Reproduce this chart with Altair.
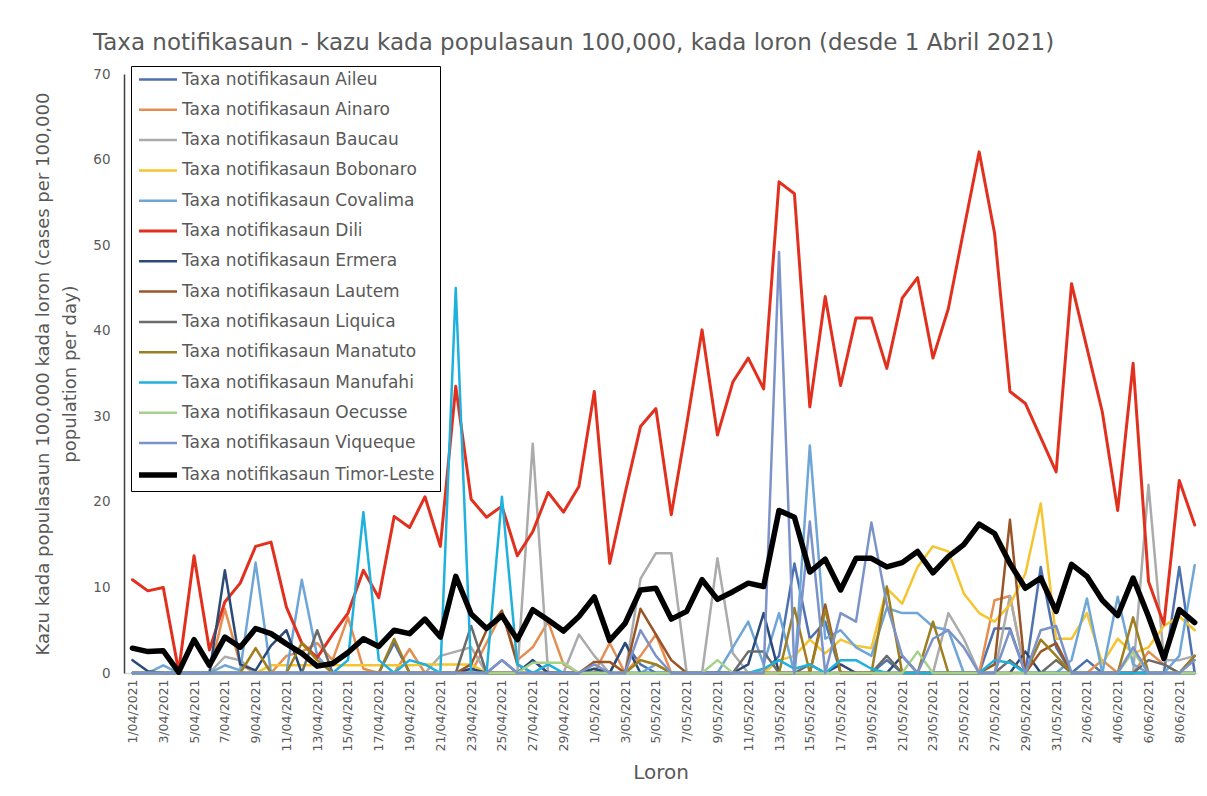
import json
import altair as alt
import pandas as pd

dates = [d.strftime("%-d/%m/%Y") for d in pd.date_range("2021-04-01", periods=70)]

names = ["Aileu", "Ainaro", "Baucau", "Bobonaro", "Covalima", "Dili", "Ermera",
         "Lautem", "Liquica", "Manatuto", "Manufahi", "Oecusse", "Viqueque", "Timor-Leste"]
colors = ["#4E72B0", "#E58E51", "#ABABAB", "#F5C431", "#6EA6D8", "#E2301F", "#2B4A78",
          "#9A5526", "#6B6B6B", "#9E7E1E", "#1FB1DE", "#A7D08A", "#7C93C9", "#000000"]
widths = [2.5] * 5 + [3.0] + [2.5] * 7 + [5.5]

aileu = [0, 0, 0, 0, 0, 0, 0, 0, 0, 0,
         0, 0, 0, 0, 0, 0, 0, 3.5, 0, 0,
         0, 0, 0, 0, 1.5, 0, 0, 0, 0, 0,
         0, 0, 3.5, 1.0, 0, 0, 0, 0, 0, 0,
         0, 0, 2.0, 12.8, 4.0, 6.0, 0, 0, 0, 1.5,
         0, 0, 0, 0, 0, 0, 5.2, 5.2, 0, 12.4,
         3.0, 0, 1.5, 0, 0, 0, 0, 0, 12.4, 0]
ainaro = [0, 0, 0, 0, 0, 0, 7.5, 1.0, 0, 0,
          2.0, 2.5, 3.5, 1.5, 6.5, 0.5, 0, 0, 2.8, 0,
          0, 0, 0, 3.5, 7.0, 1.5, 3.0, 6.0, 1.0, 0,
          0, 3.5, 0, 2.0, 4.5, 0, 0, 0, 0, 0,
          0, 0, 0, 0, 0, 0, 0, 0, 0, 0,
          0, 0, 0, 0, 0, 0, 8.5, 9.0, 0, 0,
          0, 0, 0, 1.5, 0, 0, 2.5, 1.0, 0, 0]
baucau = [0, 0, 0, 0, 0, 0, 1.9, 1.5, 0, 0,
          0, 0, 0, 0, 0, 0, 0, 0, 0, 0,
          2.0, 2.5, 3.0, 0, 0, 0, 26.8, 0, 0, 4.5,
          2.0, 0, 0, 11.0, 14.0, 14.0, 0, 0, 13.4, 2.3,
          0, 0, 0, 0, 0, 0, 0, 0, 0, 0,
          0, 0, 0, 7.0, 4.0, 0, 0, 9.0, 0, 0,
          0, 0, 0, 0, 0, 0, 22.0, 1.5, 1.5, 2.0]
bobonaro = [0, 0, 0, 0, 0, 0, 0, 0, 0, 0.9,
            0.9, 0.9, 0.9, 0.9, 0.9, 0.9, 0.9, 0.9, 0.9, 1.0,
            1.0, 1.0, 1.0, 0, 0, 0, 0, 0, 0, 0,
            0, 0, 0, 1.5, 1.0, 0, 0, 0, 0, 0,
            0, 0, 1.5, 2.0, 3.9, 2.3, 3.9, 3.2, 2.9, 9.9,
            8.1, 12.4, 14.8, 14.2, 9.3, 7.0, 6.0, 8.0, 11.6, 19.8,
            4.0, 4.0, 7.0, 1.1, 4.0, 2.3, 3.0, 5.5, 6.6, 5.0]
covalima = [0, 0, 0.9, 0, 0, 0, 0.9, 0.3, 12.9, 0,
            0, 10.9, 2.0, 0, 0, 0, 0, 0, 0, 0,
            0, 0, 0, 0, 0, 0, 1.5, 0, 0, 0,
            0, 0, 0, 0, 1.0, 0, 0, 0, 0, 3.0,
            6.0, 1.0, 7.0, 0, 26.6, 4.0, 5.0, 3.0, 2.0, 7.6,
            7.0, 7.0, 5.4, 5.0, 0, 0, 0, 0, 0, 0,
            0, 1.5, 8.7, 0, 8.9, 1.0, 0, 0, 2.0, 12.6]
dili = [10.9, 9.6, 10.0, 0.2, 13.7, 2.7, 8.3, 10.5, 14.8, 15.3,
        7.7, 3.5, 1.8, 4.5, 7.0, 12.0, 8.8, 18.3, 17.0, 20.6,
        14.8, 33.5, 20.3, 18.2, 19.5, 13.7, 16.5, 21.1, 18.8, 21.8,
        32.9, 12.8, 21.0, 28.8, 30.9, 18.5, 29.0, 40.1, 27.8, 34.0,
        36.8, 33.2, 57.4, 56.0, 31.1, 44.0, 33.6, 41.5, 41.5, 35.6,
        43.8, 46.2, 36.8, 42.6, 51.8, 60.9, 51.4, 32.9, 31.5, 27.5,
        23.5, 45.5, 38.0, 30.5, 19.0, 36.2, 10.7, 5.7, 22.5, 17.3]
ermera = [1.5, 0.2, 0, 0, 0, 0, 12.0, 1.0, 0.3, 3.2,
          5.0, 0, 0, 0, 0, 0, 0, 0, 0, 0,
          0, 0, 0.5, 0, 0, 0, 1.5, 0, 0, 0,
          0.5, 0, 3.5, 0, 0, 0, 0, 0, 0, 0,
          1.0, 7.0, 0, 0, 0, 0, 1.0, 0, 0, 0,
          2.0, 0, 0, 0, 0, 0, 0, 0, 2.5, 0,
          0, 0, 0, 0, 0, 0, 0, 0, 0, 0]
lautem = [0, 0, 0, 0, 0, 0, 0, 0, 0, 0,
          0, 0, 0, 0, 0, 0, 0, 0, 0, 0,
          0, 0, 1.0, 5.0, 7.3, 1.0, 0, 0, 0, 0,
          1.3, 1.3, 0, 7.5, 4.5, 1.5, 0, 0, 0, 0,
          0, 0, 0, 0, 0, 8.0, 0, 0, 0, 0,
          0, 0, 0, 0, 0, 0, 1.0, 17.9, 0, 2.5,
          3.5, 0, 0, 0, 0, 0, 0, 0, 0, 0]
liquica = [0, 0, 0, 0, 0, 0, 0, 0, 0, 0,
           0, 0, 5.0, 0, 0, 0, 0, 0, 0, 0,
           0, 0, 5.5, 0, 0, 0, 0, 0, 0, 0,
           0, 0, 0, 0, 0, 0, 0, 0, 0, 0,
           2.5, 2.5, 0, 0, 1.0, 0, 0, 0, 0, 2.0,
           0, 0, 0, 0, 0, 0, 0, 1.5, 0, 0,
           1.5, 0, 0, 0, 0, 0, 1.5, 1.0, 0, 2.0]
manatuto = [0, 0, 0, 0, 0, 0, 0, 0, 2.9, 0,
            0, 3.5, 1.5, 0, 0, 0, 0, 4.0, 0, 0,
            0, 0, 0, 0, 0, 0, 0, 0, 0, 0,
            0, 0, 0, 1.5, 1.0, 0, 0, 0, 0, 0,
            0, 0, 0, 7.6, 0, 7.4, 0, 0, 0, 10.1,
            0, 0, 6.0, 0, 0, 0, 0, 0, 0, 3.9,
            2.0, 0, 0, 0, 0, 6.5, 0, 0, 0, 2.0]
manufahi = [0, 0, 0, 0, 0, 0, 0, 0, 0, 0,
            0, 0, 0, 0, 1.5, 18.8, 1.5, 0, 1.5, 1.0,
            0, 45.0, 0, 0, 20.6, 1.0, 0, 1.0, 0, 0,
            0, 0, 0, 0, 0, 0, 0, 0, 0, 0,
            0, 0.5, 1.5, 0.5, 1.0, 0, 1.5, 1.5, 0.5, 0,
            0, 0, 0, 0, 0, 0, 1.5, 1.2, 0, 0,
            0, 0, 0, 0, 0, 0, 0, 0, 0, 0]
oecusse = [0, 0, 0, 0, 0, 0, 0, 0, 0, 0,
           0, 0, 0, 0, 0, 0, 0, 0, 0, 0,
           0, 0, 0, 0, 0, 0, 1.2, 1.2, 1.2, 0,
           0, 0, 0, 0, 0, 0, 0, 0, 1.5, 0,
           0, 0, 0, 0, 0, 0, 0, 0, 0, 0,
           0, 2.5, 0, 0, 0, 0, 0, 0, 0, 0,
           0, 0, 0, 0, 0, 2.5, 0, 0, 0, 0]
viqueque = [0, 0, 0, 0, 0, 0, 0, 0, 0, 0,
            0, 0, 0, 0, 0, 0, 0, 0, 0, 0,
            0, 0, 0, 0, 1.5, 0, 0, 0, 0, 0,
            1.0, 0, 0, 5.0, 2.0, 0, 0, 0, 0, 0,
            0, 0, 49.2, 0, 17.7, 0, 7.0, 6.0, 17.6, 8.0,
            2.0, 0, 4.0, 5.0, 3.0, 0, 0, 5.0, 0, 5.0,
            5.5, 0, 0, 0, 0, 3.0, 0, 0, 0, 1.5]
timor_leste = [2.9, 2.5, 2.6, 0.1, 3.9, 0.9, 4.2, 3.0, 5.2, 4.6,
               3.4, 2.3, 0.8, 1.1, 2.4, 4.0, 3.1, 5.0, 4.6, 6.3,
               4.2, 11.3, 6.9, 5.2, 6.7, 3.9, 7.4, 6.2, 4.9, 6.6,
               8.9, 3.8, 5.8, 9.7, 9.9, 6.3, 7.2, 10.9, 8.6, 9.5,
               10.5, 10.1, 19.0, 18.2, 11.8, 13.3, 9.7, 13.4, 13.4, 12.4,
               12.9, 14.2, 11.7, 13.6, 15.0, 17.4, 16.3, 12.8, 9.9, 11.1,
               7.2, 12.7, 11.3, 8.5, 6.7, 11.1, 6.6, 1.7, 7.4, 5.9]

values = [aileu, ainaro, baucau, bobonaro, covalima, dili, ermera,
          lautem, liquica, manatuto, manufahi, oecusse, viqueque, timor_leste]

labels = ["Taxa notifikasaun " + n for n in names]
rows = []
for lab, vals in zip(labels, values):
    for i, v in enumerate(vals):
        rows.append({"day": i, "series": lab, "value": v})
df = pd.DataFrame(rows)

FONT = "DejaVu Sans"
GREY = "#595959"

label_expr = json.dumps(dates) + "[datum.value]"

chart = alt.Chart(df).mark_line(strokeJoin="round", strokeCap="round").encode(
    x=alt.X("day:Q",
            scale=alt.Scale(domain=[-0.55, 69.15], nice=False, zero=False),
            axis=alt.Axis(values=list(range(0, 70, 2)), labelExpr=label_expr,
                          labelAngle=-90, labelFontSize=12.5, labelColor=GREY,
                          labelFont=FONT, labelPadding=6, ticks=False,
                          domainColor="#D9D9D9", domainWidth=1.5, grid=False,
                          title="Loron", titleFontSize=20, titleColor=GREY,
                          titleFont=FONT, titleFontWeight="normal", titlePadding=11)),
    y=alt.Y("value:Q",
            scale=alt.Scale(domain=[0, 70], nice=False),
            axis=alt.Axis(values=list(range(0, 71, 10)), grid=False, ticks=False,
                          labelFontSize=13.5, labelColor=GREY, labelFont=FONT,
                          labelPadding=14, domainColor="#404040", domainWidth=1.5,
                          title=["Kazu kada populasaun 100,000 kada loron (cases per 100,000",
                                 "population per day)"],
                          titleFontSize=18, titleColor=GREY, titleFont=FONT,
                          titleFontWeight="normal", titlePadding=13, titleLineHeight=27)),
    color=alt.Color("series:N", sort=labels,
                    scale=alt.Scale(domain=labels, range=colors),
                    legend=alt.Legend(title=None)),
    strokeWidth=alt.StrokeWidth("series:N", sort=labels,
                                scale=alt.Scale(type="ordinal", domain=labels, range=widths),
                                legend=alt.Legend(title=None)),
).properties(
    width=1073,
    height=599,
    padding={"left": 26, "top": 23, "right": 0, "bottom": 5},
    title=alt.TitleParams(
        "Taxa notifikasaun - kazu kada populasaun 100,000,  kada loron (desde 1 Abril 2021)",
        fontSize=23, color=GREY, font=FONT, fontWeight="normal",
        anchor="start", frame="group", dx=-31, offset=11),
).configure_view(
    stroke=None
).configure_legend(
    orient="none", legendX=7, legendY=-8,
    symbolType="M-1,0H4.43", symbolSize=196, symbolFillColor="transparent",
    labelFontSize=17, labelColor=GREY, labelFont=FONT, labelLimit=500,
    labelOffset=26, strokeColor="black", fillColor="white", padding=5,
    rowPadding=12.3,
)

chart.save("out.html", embed_options={"renderer": "svg", "actions": False})
